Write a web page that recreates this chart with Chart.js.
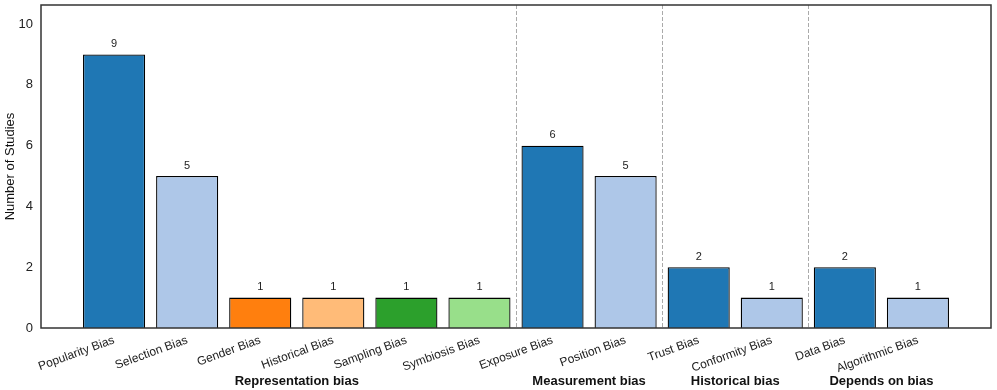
<!DOCTYPE html>
<html><head><meta charset="utf-8">
<script src="https://cdn.jsdelivr.net/npm/chart.js@4/dist/chart.umd.min.js"></script>
<style>html,body{margin:0;padding:0;background:#fff}#wrap{width:997px;height:390px}</style>
</head><body><div id="wrap"><canvas id="c" width="997" height="390"></canvas></div>
<script>
const categories = ["Popularity Bias","Selection Bias","Gender Bias","Historical Bias","Sampling Bias","Symbiosis Bias","Exposure Bias","Position Bias","Trust Bias","Conformity Bias","Data Bias","Algorithmic Bias"];
const studies = [9,5,1,1,1,1,6,5,2,1,2,1];
const groupNames = ["Representation bias","Measurement bias","Historical bias","Depends on bias"];
const groupSizes = [6,2,2,2];
const yTicks = [0,2,4,6,8,10];

const palette = ["#1f77b4","#aec7e8","#ff7f0e","#ffbb78","#2ca02c","#98df8a","#1f77b4","#aec7e8","#1f77b4","#aec7e8","#1f77b4","#aec7e8"];
const FONT = "'Liberation Sans', Arial, sans-serif";

// padded labels so the axis spans one empty slot on each side
const labels = [""].concat(categories, [""]);
const values = [null].concat(studies, [null]);
const colors = ["#fff"].concat(palette, ["#fff"]);

const overlay = {
  id: "overlay",
  afterDatasetsDraw(chart) {
    const ctx = chart.ctx, a = chart.chartArea, x = chart.scales.x;
    ctx.save();
    ctx.font = "11px " + FONT;
    ctx.fillStyle = "#222";
    ctx.textAlign = "center";
    ctx.textBaseline = "bottom";
    chart.getDatasetMeta(0).data.forEach((bar, i) => {
      const v = values[i];
      if (v == null) return;
      ctx.fillText(String(v), bar.x, bar.y - 5);
    });
    let start = 1;
    ctx.font = "bold 13px " + FONT;
    ctx.textBaseline = "alphabetic";
    groupSizes.forEach((n, gi) => {
      const end = start + n - 1;
      const cx = (x.getPixelForValue(start) + x.getPixelForValue(end)) / 2;
      ctx.fillStyle = "#111";
      ctx.fillText(groupNames[gi], cx, 385);
      if (gi < groupSizes.length - 1) {
        const sx = (x.getPixelForValue(end) + x.getPixelForValue(end + 1)) / 2;
        ctx.strokeStyle = "#aaaaaa";
        ctx.lineWidth = 1;
        ctx.setLineDash([4, 2]);
        ctx.beginPath();
        ctx.moveTo(Math.round(sx) + 0.5, a.top);
        ctx.lineTo(Math.round(sx) + 0.5, a.bottom);
        ctx.stroke();
        ctx.setLineDash([]);
      }
      start = end + 1;
    });
    ctx.strokeStyle = "#333";
    ctx.lineWidth = 1.5;
    ctx.strokeRect(a.left, a.top, a.right - a.left, a.bottom - a.top);
    ctx.restore();
  }
};

new Chart(document.getElementById("c"), {
  type: "bar",
  data: {
    labels: labels,
    datasets: [{
      data: values,
      backgroundColor: colors,
      borderColor: "#000",
      borderWidth: 1.3,
      barPercentage: 0.85,
      categoryPercentage: 1.0
    }]
  },
  options: {
    responsive: false,
    animation: false,
    layout: { padding: { left: 0, right: 6, top: 5, bottom: 0 } },
    plugins: { legend: { display: false }, tooltip: { enabled: false } },
    scales: {
      x: {
        offset: false,
        grid: { display: false, drawTicks: false },
        border: { display: false },
        ticks: {
          autoSkip: false, minRotation: 20, maxRotation: 20, padding: 5,
          color: "#222", font: { family: FONT, size: 12 }
        },
        afterFit(s) { s.height = 62; s.paddingLeft = 0; s.paddingRight = 0; }
      },
      y: {
        min: 0, max: 10.63,
        afterBuildTicks(s) { s.ticks = yTicks.map(v => ({ value: v })); },
        grid: { display: false, drawTicks: false },
        border: { display: false },
        ticks: { padding: 8, color: "#222", font: { family: FONT, size: 13 } },
        title: { display: true, text: "Number of Studies", color: "#111", font: { family: FONT, size: 13 }, padding: { top: 3, bottom: 2 } },
        afterFit(s) { s.width = 41; s.paddingTop = 0; s.paddingBottom = 0; }
      }
    }
  },
  plugins: [overlay]
});
</script>
</body></html>
